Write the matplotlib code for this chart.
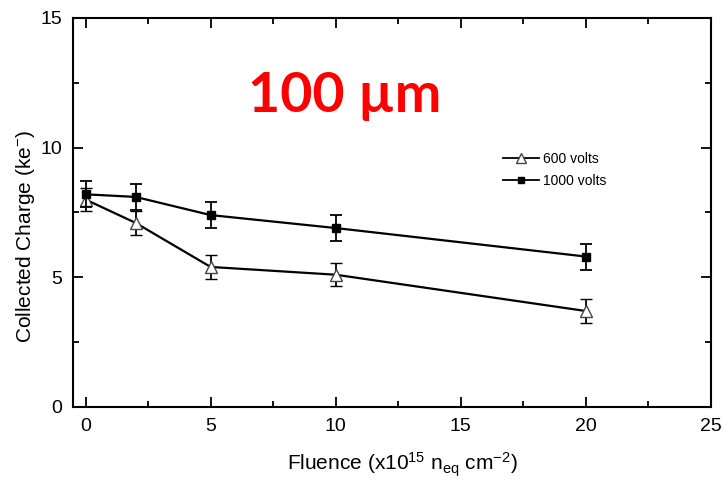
import matplotlib.pyplot as plt
from matplotlib.ticker import MultipleLocator
from matplotlib.lines import Line2D

plt.rcParams['font.family'] = ['Liberation Sans', 'DejaVu Sans']
plt.rcParams['mathtext.default'] = 'regular'

fluence = [0, 2, 5, 10, 20]
q600 = [8.0, 7.1, 5.4, 5.1, 3.7]
err600 = [0.45, 0.45, 0.45, 0.45, 0.45]
q1000 = [8.2, 8.1, 7.4, 6.9, 5.8]
err1000 = [0.5, 0.5, 0.5, 0.5, 0.5]

fig = plt.figure(figsize=(7.22, 4.86), dpi=100)
ax = fig.add_axes([0.1011, 0.1626, 0.8837, 0.8004])

ax.errorbar(fluence, q600, yerr=err600, color='black', lw=1.6, marker='^',
            ms=8, mfc='white', mec='#444444', mew=1, capsize=4, elinewidth=1.3,
            capthick=1.3, zorder=3)
ax.errorbar(fluence, q1000, yerr=err1000, color='black', lw=1.6, marker='s',
            ms=6, mfc='black', mec='black', capsize=4, elinewidth=1.3,
            capthick=1.3, zorder=4)

ax.set_xlim(-0.5, 25)
ax.set_ylim(0, 15)
ax.xaxis.set_major_locator(MultipleLocator(5))
ax.xaxis.set_minor_locator(MultipleLocator(2.5))
ax.yaxis.set_major_locator(MultipleLocator(5))
ax.yaxis.set_minor_locator(MultipleLocator(2.5))
ax.tick_params(which='both', direction='in', top=True, right=True, labelsize=14, width=1.3)
ax.tick_params(which='major', length=7, pad=8)
ax.tick_params(which='minor', length=4)
for s in ax.spines.values():
    s.set_linewidth(1.5)

ax.set_xlabel('Fluence (x10$^{15}$ n$_{eq}$ cm$^{-2}$)', fontsize=15)
ax.set_ylabel('Collected Charge (ke$^{-}$)', fontsize=15)
ax.xaxis.set_label_coords(0.517, -0.113)
ax.yaxis.set_label_coords(-0.056, 0.437)

ax.text(0.426, 0.80, '100 µm', transform=ax.transAxes, color='red', fontsize=40,
        fontweight='bold', family=['Lato', 'DejaVu Sans'], ha='center', va='center')

handles = [Line2D([], [], color='black', lw=1.3, marker='^', ms=7, mfc='white', mec='#444444'),
           Line2D([], [], color='black', lw=1.3, marker='s', ms=5, mfc='black')]
ax.legend(handles, ['600 volts', '1000 volts'], loc='upper left',
          bbox_to_anchor=(0.674, 0.655), frameon=False, fontsize=10,
          handlelength=2.6, handletextpad=0.3, labelspacing=0.55,
          borderpad=0, borderaxespad=0)

fig.savefig('out.png', dpi=100)
